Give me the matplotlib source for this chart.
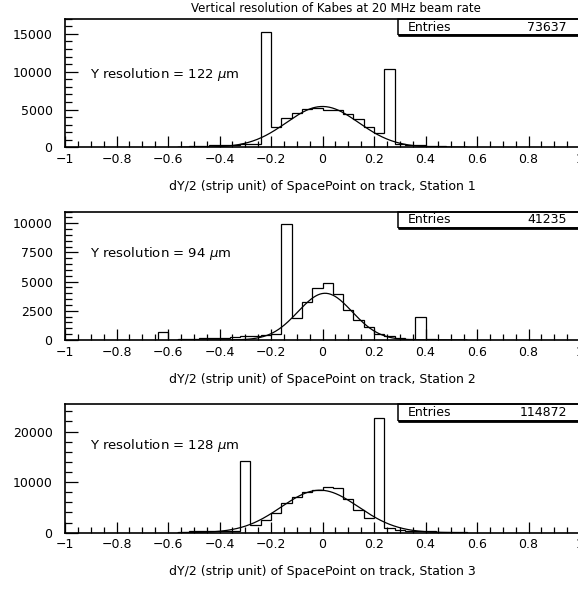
import matplotlib.pyplot as plt
import numpy as np
from matplotlib.ticker import MultipleLocator, FuncFormatter
from matplotlib.patches import Rectangle

plt.rcParams['font.family'] = 'DejaVu Sans'
plt.rcParams['font.size'] = 9

title = 'Vertical resolution of Kabes at 20 MHz beam rate'
bin_width = 0.04

# station 1 : counts per 0.04 bin, starting at first_edge
s1_first_edge = -0.56
s1_counts = [100, 150, 200, 250, 300, 350, 400, 500, 15300,
             2700, 3900, 4600, 5100, 5200, 4900, 5000, 4400, 3700, 2700, 1900,
             10300, 400, 300, 250, 200, 150, 100, 60]
s1_entries = 73637
s1_resolution = 122
s1_fit = (5400, 0.0, 0.14)      # amplitude, mean, sigma
s1_ylim = 17000

# station 2
s2_first_edge = -0.64
s2_counts = [700, 0, 50, 100, 130, 170, 200, 250, 300, 350, 420, 500, 9950,
             1870, 3220, 4450, 4890, 3900, 2590, 1720, 1090, 550, 350, 200, 120,
             2000, 60, 30]
s2_entries = 41235
s2_resolution = 94
s2_fit = (4000, 0.01, 0.105)
s2_ylim = 11000

# station 3
s3_first_edge = -0.56
s3_counts = [150, 250, 300, 330, 350, 400, 14140,
             1510, 2500, 3950, 5790, 7100, 8090, 8420, 9080, 8750, 6640, 4470, 2830,
             22760, 860, 530, 400, 330, 260, 200, 150, 100]
s3_entries = 114872
s3_resolution = 128
s3_fit = (8400, -0.01, 0.15)
s3_ylim = 25400

x_major = 0.2
x_minor = 0.05

panels = [
    (1, s1_first_edge, s1_counts, s1_entries, s1_resolution, s1_fit, s1_ylim, 5000, 1000, 0.57),
    (2, s2_first_edge, s2_counts, s2_entries, s2_resolution, s2_fit, s2_ylim, 2500, 500, 0.67),
    (3, s3_first_edge, s3_counts, s3_entries, s3_resolution, s3_fit, s3_ylim, 10000, 2000, 0.68),
]

W, H = 578, 591
fig = plt.figure(figsize=(W / 100, H / 100), dpi=100)

ax_left = 65 / W
ax_width = (580 - 65) / W
bottoms_px = [147.3, 340.0, 532.7]
ax_h_px = 128.5

fig.text(336 / W, 1 - 8 / H, title, ha='center', va='center', fontsize=8.5)


def fmt_x(v, pos):
    if abs(v) < 1e-9:
        return '0'
    return f'{v:g}'.replace('-', '\u2212')


for (station, first_edge, counts, entries, res, fit, ylim,
     ymaj, ymin, text_y), bpx in zip(panels, bottoms_px):
    ax = fig.add_axes([ax_left, 1 - bpx / H, ax_width, ax_h_px / H])

    edges = first_edge + bin_width * np.arange(len(counts) + 1)
    ax.stairs(counts, edges, color='black', lw=0.9)

    amp, mu, sig = fit
    xs = np.linspace(-0.56, 0.56, 400)
    ax.plot(xs, amp * np.exp(-0.5 * ((xs - mu) / sig) ** 2), color='black', lw=0.9)

    ax.set_xlim(-1, 1)
    ax.set_ylim(0, ylim)
    ax.xaxis.set_major_locator(MultipleLocator(x_major))
    ax.xaxis.set_minor_locator(MultipleLocator(x_minor))
    ax.yaxis.set_major_locator(MultipleLocator(ymaj))
    ax.yaxis.set_minor_locator(MultipleLocator(ymin))
    ax.xaxis.set_major_formatter(FuncFormatter(fmt_x))
    ax.tick_params(which='both', direction='in', top=False, right=False,
                   width=0.9, labelsize=9)
    ax.tick_params(axis='x', which='major', length=8, pad=4)
    ax.tick_params(axis='x', which='minor', length=4)
    ax.tick_params(axis='y', which='major', length=9, pad=9)
    ax.tick_params(axis='y', which='minor', length=5)
    for sp in ax.spines.values():
        sp.set_linewidth(1.2)

    # stats box
    bx = (398 - 65) / 515
    bh = 16.5 / ax_h_px
    ax.add_patch(Rectangle((bx, 1 - bh), 1 - bx + 0.02, bh, transform=ax.transAxes,
                           fill=False, lw=1.1, color='black', clip_on=False))
    ax.plot([bx, 1.02], [1 - bh, 1 - bh], transform=ax.transAxes, color='black',
            lw=2, clip_on=False, solid_capstyle='butt')
    ax.text((408 - 65) / 515, 1 - bh / 2, 'Entries', transform=ax.transAxes,
            ha='left', va='center', fontsize=9)
    ax.text((567 - 65) / 515, 1 - bh / 2, f'{entries}', transform=ax.transAxes,
            ha='right', va='center', fontsize=9)

    ax.text((90 - 65) / 515, text_y, f'Y resolution = {res} $\\mu$m',
            transform=ax.transAxes, ha='left', va='center', fontsize=9.5)

    fig.text(322.5 / W, 1 - (bpx + 39) / H,
             f'dY/2 (strip unit) of SpacePoint on track, Station {station}',
             ha='center', va='center', fontsize=9)

fig.savefig('out.png', dpi=100)
